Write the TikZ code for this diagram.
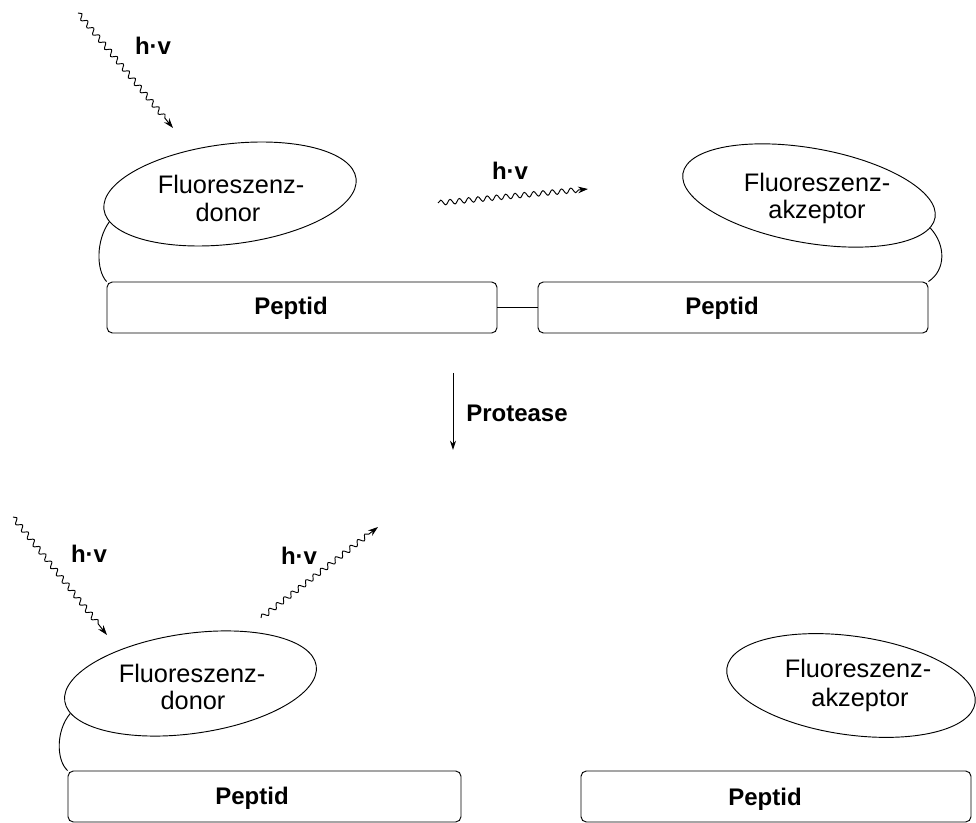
\documentclass[tikz,border=0pt]{standalone}
\usepackage{fontspec}
\setmainfont{Liberation Sans}
\usetikzlibrary{shapes.geometric,arrows.meta,decorations.pathmorphing}
\begin{document}
\begin{tikzpicture}[x=0.75pt,y=-0.75pt,
  line width=0.7pt,
  blob/.style={ellipse,draw,inner sep=0pt,minimum width=190.5pt,minimum height=75pt},
  pepbox/.style={rectangle,draw,rounded corners=4pt,inner sep=0pt,minimum width=292.5pt,minimum height=38.25pt},
  ftxt/.style={font=\fontsize{19}{21}\selectfont,anchor=base,inner sep=0pt},
  btxt/.style={font=\bfseries\fontsize{18}{20}\selectfont,anchor=base,inner sep=0pt},
  photon/.style={decorate,decoration={snake,amplitude=1.9pt,segment length=7pt,post length=7pt},-{Stealth[length=7.5pt,width=5pt]}},
  tether/.style={draw},
]
\useasboundingbox (0,0) rectangle (976,823);

% ---------- top: intact substrate ----------
\node[blob,rotate=7] (e1) at (230,194) {};
\node[blob,rotate=-10,minimum width=192pt,minimum height=71pt] (e2) at (809,195.5) {};
\node[ftxt] (t1a) at (231,194) {Fluoreszenz-};
\node[ftxt] (t1b) at (228,222) {donor};
\node[ftxt] (t2a) at (817,192) {Fluoreszenz-};
\node[ftxt] (t2b) at (817,219) {akzeptor};

\node[pepbox] (p1) at (302,307.5) {};
\node[pepbox] (p2) at (733,307.5) {};
\node[btxt] (l1) at (291,315) {Peptid};
\node[btxt] (l2) at (722,315) {Peptid};
\draw (p1) -- (p2);

\draw[tether] (e1.186) .. controls (96,240) and (96,270) .. (p1.north west);
\draw[tether] (e2.355) .. controls (946,245) and (946,270) .. (p2.north east);

\coordinate (w1s) at (78,13);
\coordinate (w1e) at (173,128);
\draw[photon] (w1s) -- (w1e);
\node[btxt] (h1) at (153,55) {h·v};

\coordinate (w2s) at (438,203);
\coordinate (w2e) at (588,189);
\draw[photon] (w2s) -- (w2e);
\node[btxt] (h2) at (510,180) {h·v};

% ---------- protease step ----------
\coordinate (pa) at (453,373);
\coordinate (pb) at (453,450);
\draw[-{Stealth[length=7pt,width=4.5pt]}] (pa) -- (pb);
\node[btxt] (prot) at (517,422) {Protease};

% ---------- bottom: cleaved ----------
\node[blob,rotate=8] (e3) at (190.5,683.5) {};
\node[blob,rotate=-8,minimum width=188pt,minimum height=74pt] (e4) at (851,685.5) {};
\node[ftxt] (t3a) at (192,683) {Fluoreszenz-};
\node[ftxt] (t3b) at (193,710) {donor};
\node[ftxt] (t4a) at (858,678) {Fluoreszenz-};
\node[ftxt] (t4b) at (860,707) {akzeptor};

\node[pepbox,minimum width=294.75pt] (p3) at (264.5,796.5) {};
\node[pepbox] (p4) at (776,796.5) {};
\node[btxt] (l3) at (252,805) {Peptid};
\node[btxt] (l4) at (765,806) {Peptid};

\draw[tether] (e3.186) .. controls (56,730) and (56,760) .. (p3.north west);

\coordinate (w3s) at (13,517);
\coordinate (w3e) at (107,635);
\draw[photon] (w3s) -- (w3e);
\node[btxt] (h3) at (89,563) {h·v};

\coordinate (w4s) at (261,618);
\coordinate (w4e) at (378,527);
\draw[photon] (w4s) -- (w4e);
\node[btxt] (h4) at (299,565) {h·v};
\end{tikzpicture}
\end{document}
